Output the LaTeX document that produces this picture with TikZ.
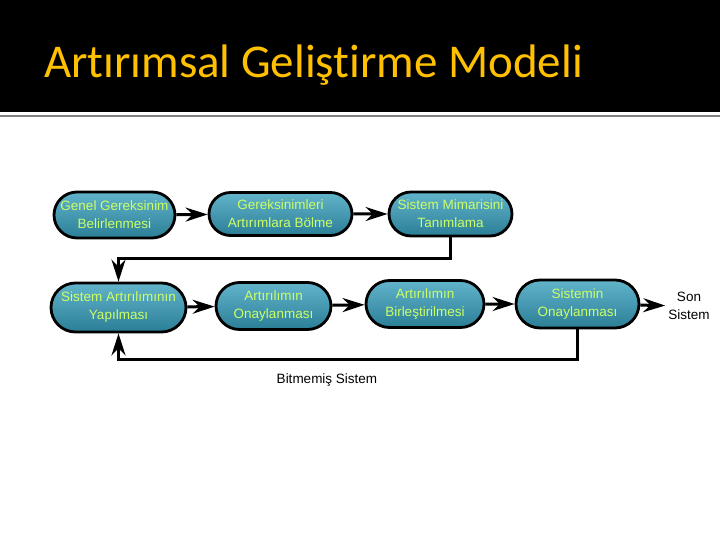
\documentclass[tikz,border=0pt]{standalone}
\usepackage{fontspec}
\setmainfont{Liberation Sans}
\newfontfamily\titlefont[Ligatures=NoCommon]{Carlito}
\usetikzlibrary{arrows.meta,shapes.misc}

\definecolor{titlegold}{HTML}{FFC000}
\definecolor{boxtext}{HTML}{CCFF66}
\definecolor{boxtop}{HTML}{62B4CB}
\definecolor{boxbot}{HTML}{2A7E95}

\begin{document}
\begin{tikzpicture}[
  x=1pt, y=-1pt,
  >={Stealth[length=22pt,width=14pt]},
  phase/.style={rounded rectangle, draw=black, line width=2.8pt,
    top color=boxtop, bottom color=boxbot, text=boxtext,
    font=\fontsize{13.5}{18}\selectfont, align=center, inner sep=1pt},
  link/.style={->, line width=3pt},
  lab/.style={font=\fontsize{13.5}{18}\selectfont, align=center, text=black}
]
\path[use as bounding box] (0,0) rectangle (720,540);
\fill[white] (0,0) rectangle (720,540);

% title bar
\fill[black] (0,0) rectangle (720,112);
\draw[gray, line width=2pt] (0,116) -- (720,116);
\node[anchor=base west, inner sep=0pt, text=titlegold,
  font=\titlefont\fontsize{47}{52}\selectfont] (title) at (44,78)
  {Artırımsal Geliştirme Modeli};

% first row
\node[phase, minimum width=123pt, minimum height=46pt] (gen) at (114.5,215)
  {Genel Gereksinim\\Belirlenmesi};
\node[phase, minimum width=145pt, minimum height=43pt] (bol) at (280.5,214)
  {Gereksinimleri\\Artırımlara Bölme};
\node[phase, minimum width=125pt, minimum height=44pt] (mim) at (450.5,214)
  {Sistem Mimarisini\\Tanımlama};

% second row
\node[phase, minimum width=137pt, minimum height=49pt] (yap) at (118.5,307.5)
  {Sistem Artırılımının\\Yapılması};
\node[phase, minimum width=117pt, minimum height=47pt] (ona) at (273.5,306)
  {Artırılımın\\Onaylanması};
\node[phase, minimum width=120pt, minimum height=47pt] (bir) at (425,304)
  {Artırılımın\\Birleştirilmesi};
\node[phase, minimum width=125pt, minimum height=48pt] (son) at (577.5,304)
  {Sistemin\\Onaylanması};
\node[lab, inner sep=3pt] (sonsis) at (689,306) {Son\\Sistem};
\node[lab] (bitmemis) at (327,380) {Bitmemiş Sistem};

% connectors
\draw[link] (gen) -- (bol);
\draw[link] (bol) -- (mim);
\draw[link] (mim.south) -- ++(0,21) -| (yap.north);
\draw[link] (yap) -- (ona);
\draw[link] (ona) -- (bir);
\draw[link] (bir) -- (son);
\draw[link] (son) -- (sonsis);
\draw[link] (son.south) -- ++(0,30) -| (yap.south);
\end{tikzpicture}
\end{document}
